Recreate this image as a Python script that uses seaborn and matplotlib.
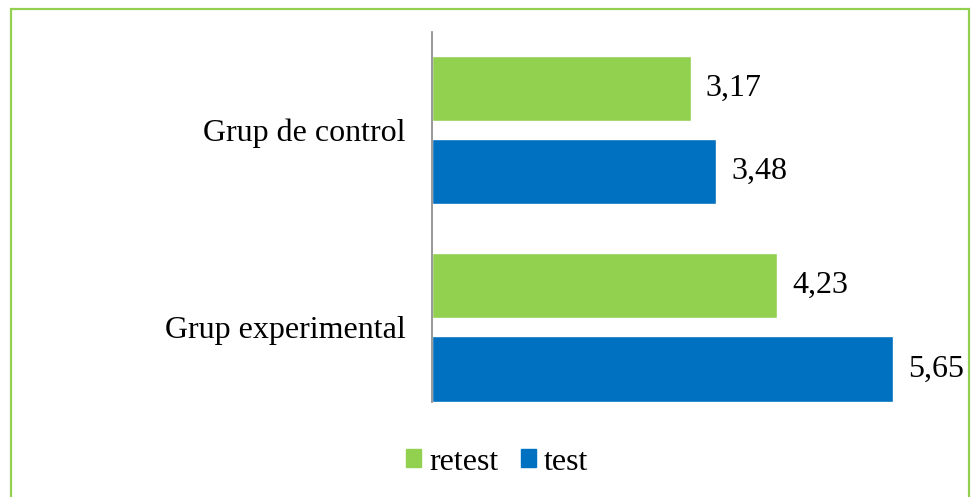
import matplotlib
matplotlib.use("Agg")
import matplotlib.pyplot as plt
import seaborn as sns
import pandas as pd
from matplotlib.patches import Rectangle, Patch

groups = ["Grup de control", "Grup experimental"]
series = ["retest", "test"]
retest = [3.17, 4.23]
test = [3.48, 5.65]
colors = {"retest": "#92D050", "test": "#0070C0"}

df = pd.DataFrame({
    "group": groups * 2,
    "series": ["retest"] * 2 + ["test"] * 2,
    "value": retest + test,
})

sns.set_style("white")
plt.rcParams["font.family"] = ["Liberation Serif", "DejaVu Serif"]
plt.rcParams["text.color"] = "black"
plt.rcParams["ytick.color"] = "black"
fs = 23

fig = plt.figure(figsize=(9.71, 4.97), dpi=100)
ax = fig.add_axes([432 / 971, 1 - 402 / 497, 514 / 971, 370 / 497])

sns.barplot(data=df, x="value", y="group", hue="series", hue_order=series,
            palette=colors, orient="h", width=0.843, gap=0.217,
            saturation=1, ax=ax, legend=False)

for cont in ax.containers:
    labels = [f"{b.get_width():.2f}".replace(".", ",") for b in cont]
    ax.bar_label(cont, labels=labels, padding=11, fontsize=fs, color="black")

ax.set_xlim(0, 6.3)
ax.set_ylim(1.378, -0.497)
ax.set_xlabel("")
ax.set_ylabel("")
ax.set_xticks([])
ax.tick_params(axis="y", length=0, pad=19, labelsize=fs, labelcolor="black")
for s in ["top", "right", "bottom"]:
    ax.spines[s].set_visible(False)
ax.spines["left"].set_color("#868686")
ax.spines["left"].set_linewidth(1.2)

handles = [Patch(color=colors[s], label=s) for s in series]
fig.legend(handles=handles, loc="center", bbox_to_anchor=(497 / 971, 1 - 462 / 497),
           ncol=2, frameon=False, fontsize=fs, handlelength=0.48, handleheight=0.48,
           handletextpad=0.25, columnspacing=0.7, borderpad=0)

# green frame around the chart
fig.patches.append(Rectangle((10.5 / 971, -0.05), 958.5 / 971, 1.05 - 8.5 / 497,
                             transform=fig.transFigure, fill=False,
                             edgecolor="#92D050", linewidth=1.6))

fig.savefig("out.png", dpi=100)
